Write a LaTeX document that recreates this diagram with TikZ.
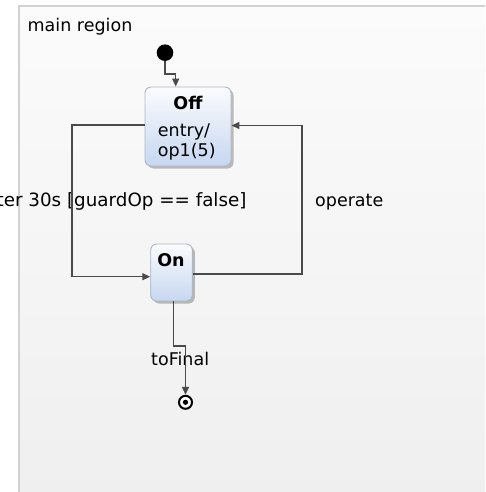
\documentclass[tikz,border=0pt]{standalone}
\usepackage{fontspec}
\setmainfont{DejaVu Sans}
\usetikzlibrary{arrows.meta,shadows,calc}
\definecolor{linegray}{HTML}{4A4A4A}
\definecolor{regborder}{HTML}{D2D2D2}
\definecolor{regtop}{HTML}{FBFBFB}
\definecolor{regbot}{HTML}{EFEFEF}
\definecolor{statetop}{HTML}{FBFCFE}
\definecolor{statebot}{HTML}{C6D7F0}
\definecolor{stateborder}{HTML}{AEB7C4}
\tikzset{
  statebox/.style={draw=stateborder, line width=0.9pt, rounded corners=6pt,
    top color=statetop, bottom color=statebot, inner sep=0pt,
    drop shadow={shadow xshift=2.5pt, shadow yshift=-2.5pt, fill=black, opacity=0.25}},
  trans/.style={draw=linegray, line width=1.3pt, -{Triangle[length=8pt,width=7pt]}},
  lbl/.style={font=\fontsize{17.5}{20.5}\selectfont, inner sep=0pt, text=black},
  sname/.style={font=\fontsize{17.5}{20.5}\selectfont\bfseries, inner sep=0pt, text=black},
}
\begin{document}
\begin{tikzpicture}[x=1pt,y=-1pt]
\useasboundingbox (0,0) rectangle (485,492);
\clip (0,0) rectangle (485,492);
% region
\path[top color=regtop, bottom color=regbot] (19,6) rectangle (490,500);
\draw[regborder, line width=1.2pt] (19,500) -- (19,6) -- (490,6);
\node[lbl, anchor=base west] (regname) at (27.5,31.7) {main region};
% states
\node[statebox, minimum width=86pt, minimum height=79pt] (off) at (188,126.5) {};
\node[sname, anchor=base] (offname) at (188,110) {Off};
\node[lbl, anchor=base west] (offact1) at (157.7,136.5) {entry/};
\node[lbl, anchor=base west] (offact2) at (157.7,156.5) {op1(5)};
\node[statebox, minimum width=41.6pt, minimum height=57pt] (on) at (171.5,272.5) {};
\node[sname, anchor=base] (onname) at (171,266) {On};
% initial and final
\node[circle, fill=black, minimum size=16.6pt, inner sep=0pt] (init) at (165,52.7) {};
\node[circle, draw=black, line width=2pt, fill=white, minimum size=13pt, inner sep=0pt] (final) at (185.5,402.3) {};
\fill[black] (final.center) circle (2.6pt);
% labels
\node[lbl, font=\fontsize{18.3}{21}\selectfont, anchor=base east] (l1) at (246.7,206.7) {after 30s [guardOp == false]};
\node[lbl, anchor=base west] (l2) at (315,206.7) {operate};
\node[lbl, anchor=base west] (l3) at (151,365) {toFinal};
% transitions
\coordinate (i1) at (165,74);
\coordinate (i2) at (175.7,74);
\draw[trans] (init.south) -- (i1) -- (i2) -- (i2 |- off.north);
\coordinate (c1) at (72,276.7);
\draw[trans] ([yshift=1.5pt]off.west) -| (c1) -- (c1 -| on.west);
\coordinate (c2) at (302,125.5);
\draw[trans] ([yshift=-1.5pt]on.east) -| (c2) -- (c2 -| off.east);
\coordinate (c3) at (173.7,346);
\coordinate (c4) at (185.5,346);
\draw[trans] (c3 |- on.south) -- (c3) -- (c4) -- (final.north);
\end{tikzpicture}
\end{document}
